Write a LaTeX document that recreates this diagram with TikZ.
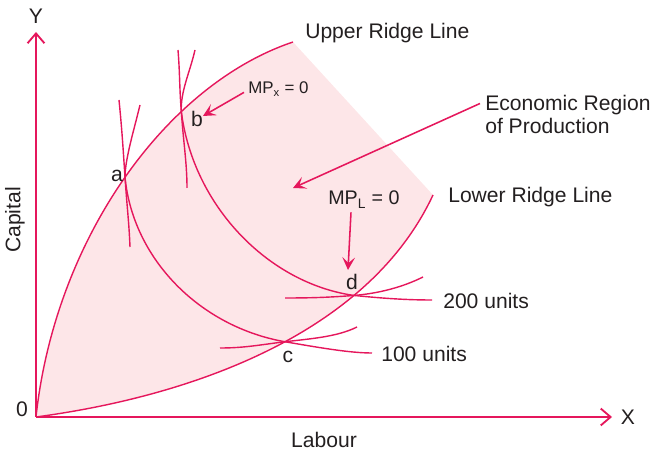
\documentclass[tikz,border=0pt]{standalone}
\usepackage{fontspec}
\setmainfont{Liberation Sans}
\usetikzlibrary{arrows.meta, positioning}
\definecolor{rlpink}{HTML}{E5175C}
\definecolor{rlshade}{HTML}{FDE6E8}
\definecolor{rlink}{HTML}{231F20}

\begin{document}
\begin{tikzpicture}[x={(0.025cm,0cm)}, y={(0cm,-0.025cm)},
                    font=\fontsize{15}{16.3}\selectfont, line join=round,
                    axis/.style={rlpink, line width=1.3pt,
                                 -{Straight Barb[length=7pt,width=12pt]}},
                    ridge/.style={rlpink, line width=1pt},
                    isoq/.style={rlpink, line width=1pt},
                    pointer/.style={rlpink, line width=1.1pt,
                                    -{Stealth[length=9pt,width=9pt,inset=4pt]}},
                    lbl/.style={text=rlink, inner sep=0pt}]
  \useasboundingbox (0,0) rectangle (653,451);
  \coordinate (O) at (36,417);
  \coordinate (yEnd) at (36,32);
  \coordinate (xEnd) at (612,417);
  \coordinate (urEnd) at (293,42);
  \coordinate (lrEnd) at (433,195);

  % economic region
  \fill[rlshade] (O) .. controls (55,240) and (165,85) .. (urEnd) -- (lrEnd)
                     .. controls (370,330) and (200,395) .. (O);

  % axes
  \draw[axis] (O) -- (yEnd);
  \draw[axis] (O) -- (xEnd);
  \node[lbl, anchor=base] (ylbl) at (36,24) {Y};
  \node[lbl, anchor=base] (xlbl) at (628,425) {X};
  \node[lbl, anchor=base] (zero) at (22,417) {0};
  \node[lbl, rotate=90] (capital) at (15,220) {Capital};
  \node[lbl, anchor=base] (labour) at (324,448) {Labour};

  % ridge lines
  \draw[ridge] (O) .. controls (55,240) and (165,85) ..
               coordinate[pos=.505] (a) coordinate[pos=.69] (b) (urEnd);
  \draw[ridge] (O) .. controls (200,395) and (370,330) ..
               coordinate[pos=.53] (c) coordinate[pos=.71] (d) (lrEnd);
  \node[lbl, anchor=base west] (upr) at (305,39) {Upper Ridge Line};
  \node[lbl, anchor=base west] (lwr) at (448,203) {Lower Ridge Line};

  % isoquants
  \coordinate (q1top) at (140,105);
  \coordinate (q1end) at (372,353);
  \coordinate (q2top) at (195,50);
  \coordinate (q2end) at (432,300);
  \draw[isoq] (q1top) .. controls +(-6,25) and +(0,-18) .. (a)
              .. controls +(8,82) and +(-85,-15) .. (c)
              .. controls +(35,6) and +(-22,0) .. (q1end);
  \draw[isoq] (q2top) .. controls +(-5,22) and +(-1,-20) .. (b)
              .. controls +(12,95) and +(-85,-12) .. (d)
              .. controls +(30,3) and +(-25,0) .. (q2end);
  \node[lbl, anchor=base west] (u100) at (381,362) {100 units};
  \node[lbl, anchor=base west] (u200) at (443,309) {200 units};

  % short arcs through the ridge points
  \coordinate (arcAt) at (119,100);  \coordinate (arcAb) at (130,247);
  \coordinate (arcBt) at (178,50);   \coordinate (arcBb) at (187,188);
  \coordinate (arcCl) at (220,348);  \coordinate (arcCr) at (357,327);
  \coordinate (arcDl) at (285,298);  \coordinate (arcDr) at (423,277);
  \draw[isoq] (arcAt) .. controls +(3,30) and +(-2,-30) .. (a)
              .. controls +(2,30) and +(-1,-25) .. (arcAb);
  \draw[isoq] (arcBt) .. controls +(2,25) and +(-2,-25) .. (b)
              .. controls +(2,30) and +(0,-25) .. (arcBb);
  \draw[isoq] (arcCl) .. controls +(25,0) and +(-25,3) .. (c)
              .. controls +(25,-3) and +(-20,10) .. (arcCr);
  \draw[isoq] (arcDl) .. controls +(25,0) and +(-25,2) .. (d)
              .. controls +(25,-2) and +(-20,10) .. (arcDr);

  \node[lbl, anchor=base] (la) at (117,182) {a};
  \node[lbl, anchor=base] (lb) at (197,127) {b};
  \node[lbl, anchor=base] (lc) at (288,363) {c};
  \node[lbl, anchor=base] (ld) at (352,290) {d};

  % pointers
  \node[lbl, anchor=base west, font=\fontsize{12}{14}\selectfont] (mpx) at (248,94)
       {MP\textsubscript{x} = 0};
  \node[lbl, anchor=base west, font=\fontsize{14}{16}\selectfont] (mpl) at (328,205)
       {MP\textsubscript{L} = 0};
  \node[lbl, anchor=north west, align=left] (econ) at (485,95)
       {Economic Region\\of Production};
  \coordinate (mpxTip) at (203,116);
  \coordinate (mplTip) at (348,270);
  \coordinate (econTip) at (293,188);
  \draw[pointer] ([shift={(-4,3)}]mpx.west) -- (mpxTip);
  \draw[pointer] ([shift={(23,4)}]mpl.south west) -- (mplTip);
  \draw[pointer] ([shift={(-5,-11)}]econ.west) -- (econTip);
\end{tikzpicture}
\end{document}
